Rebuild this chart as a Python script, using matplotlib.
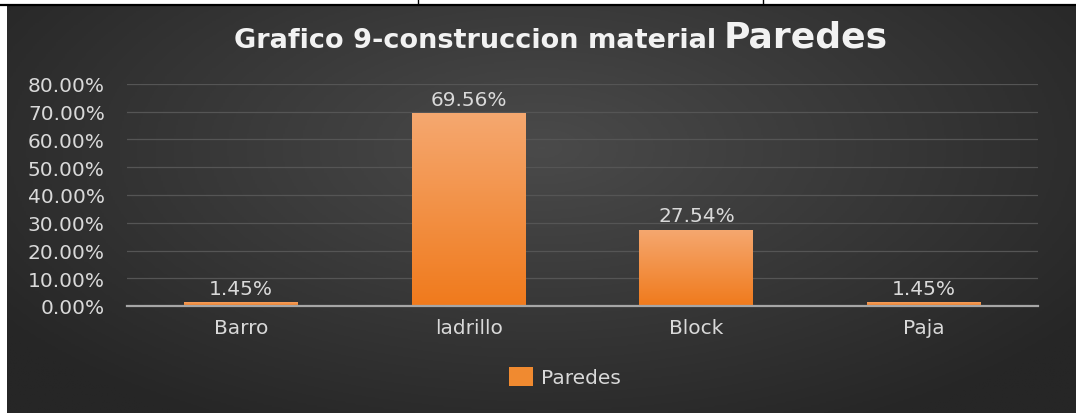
import numpy as np
import matplotlib
matplotlib.use("Agg")
import matplotlib.pyplot as plt
import matplotlib.ticker as ticker
from matplotlib.colors import LinearSegmentedColormap
from matplotlib.lines import Line2D
from matplotlib.patches import Rectangle

# -----------------------------------------------------------------------
# Datos
# -----------------------------------------------------------------------

categorias = ["Barro", "ladrillo", "Block", "Paja"]
valores    = [0.0145, 0.6956, 0.2754, 0.0145]
etiquetas  = ["1.45%", "69.56%", "27.54%", "1.45%"]
serie      = "Paredes"

W, H = 1076, 414
TXT = "#d9d9d9"
FS = 14.5

fig = plt.figure(figsize=(W / 100, H / 100), dpi=100)
fig.patch.set_facecolor("white")

# fondo con degradado radial
bg = fig.add_axes([7 / W, 0, 1 - 7 / W, 408 / H])
bg.set_axis_off()
yy, xx = np.mgrid[0:1:200j, 0:1:500j]
r = np.sqrt(((xx - 0.5) * 1.0) ** 2 + ((yy - 0.35) * 0.8) ** 2)
r = np.clip(r / 0.62, 0, 1)
bg_cmap = LinearSegmentedColormap.from_list("bg", ["#4a4a4a", "#262626"])
bg.imshow(r, cmap=bg_cmap, aspect="auto", extent=[0, 1, 0, 1])

# borde de la tabla arriba
fig.add_artist(Line2D([0, 1], [1 - 5.5 / H] * 2, color="black", lw=1.6))
for xv in (418, 763):
    fig.add_artist(Line2D([xv / W] * 2, [1 - 5 / H, 1], color="black", lw=1.0))

# -----------------------------------------------------------------------
# Barras
# -----------------------------------------------------------------------

ax = fig.add_axes([127 / W, 1 - 307 / H, (1038 - 127) / W, (307 - 85) / H])
ax.set_facecolor("none")
x = np.arange(len(categorias))
bars = ax.bar(x, valores, width=0.5, color="#f08a30", zorder=2, label=serie)

bar_cmap = LinearSegmentedColormap.from_list("bar", ["#f07a1c", "#f5a870"])
grad = np.linspace(0, 1, 256).reshape(-1, 1)
for b in bars:
    x0, w, h = b.get_x(), b.get_width(), b.get_height()
    im = ax.imshow(grad, cmap=bar_cmap, origin="lower", aspect="auto",
                   extent=[x0, x0 + w, 0, h], zorder=3, vmin=0, vmax=1)
    im.set_clip_path(b)

for xi, v, lab in zip(x, valores, etiquetas):
    ax.annotate(lab, xy=(xi, v), xytext=(0, 3), textcoords="offset points",
                ha="center", va="bottom", color=TXT, fontsize=FS, zorder=4)

ax.set_xlim(-0.5, len(categorias) - 0.5)
ax.set_ylim(0, 0.8)
ax.yaxis.set_major_locator(ticker.MultipleLocator(0.1))
ax.yaxis.set_major_formatter(ticker.PercentFormatter(xmax=1, decimals=2))
ax.set_xticks(x)
ax.set_xticklabels(categorias)
ax.tick_params(axis="both", length=0, colors=TXT, labelsize=FS)
ax.tick_params(axis="y", pad=16)
ax.tick_params(axis="x", pad=9)
ax.grid(axis="y", color="#555555", linewidth=0.9, zorder=0)
ax.set_axisbelow(True)
for s in ["top", "right", "left"]:
    ax.spines[s].set_visible(False)
ax.spines["bottom"].set_color("#a6a6a6")
ax.spines["bottom"].set_linewidth(1.6)
ax.spines["bottom"].set_zorder(5)

# -----------------------------------------------------------------------
# Titulo y leyenda
# -----------------------------------------------------------------------

fig.text(716 / W, 1 - 48 / H, "Grafico 9-construccion material", ha="right",
         va="baseline", color="#f2f2f2", fontsize=19.5, fontweight="bold")
fig.text(724 / W, 1 - 48 / H, "Paredes", ha="left", va="baseline",
         color="#f2f2f2", fontsize=26, fontweight="bold")

handle = Rectangle((0, 0), 1, 1, facecolor="#f08a30", edgecolor="none")
leg = fig.legend([handle], [serie], loc="center",
                 bbox_to_anchor=(565 / W, 1 - 378 / H), frameon=False,
                 handlelength=1.2, handleheight=1.1, handletextpad=0.4,
                 fontsize=FS)
for t in leg.get_texts():
    t.set_color(TXT)

fig.savefig("out.png", dpi=100, facecolor=fig.get_facecolor())
